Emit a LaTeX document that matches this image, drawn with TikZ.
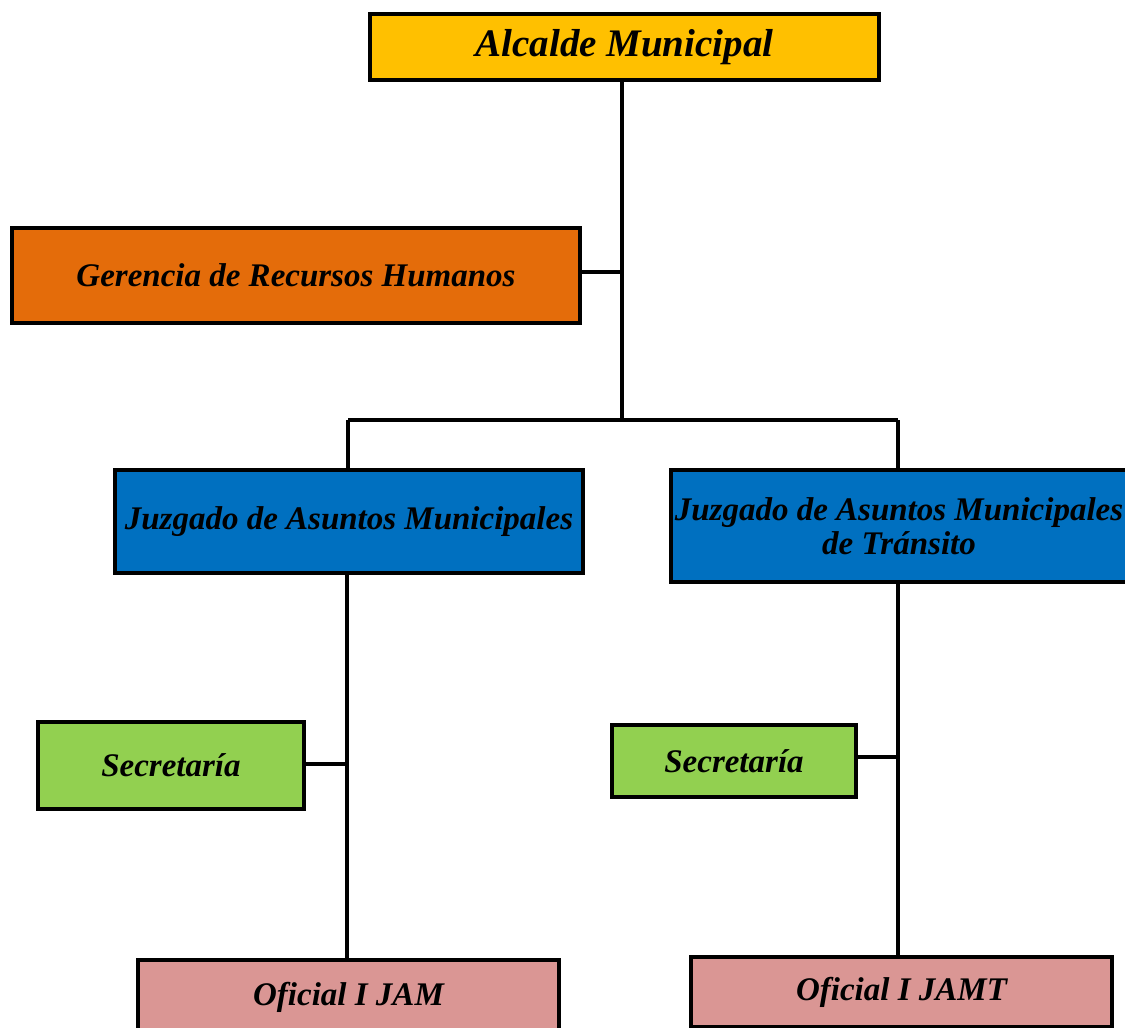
\documentclass[tikz,border=0pt]{standalone}
\usepackage{fontspec}
\setmainfont{Liberation Serif}
\definecolor{cYellow}{HTML}{FFC000}
\definecolor{cOrange}{HTML}{E46C0A}
\definecolor{cBlue}{HTML}{0070C0}
\definecolor{cGreen}{HTML}{92D050}
\definecolor{cPink}{HTML}{DA9694}
\begin{document}
\begin{tikzpicture}[x=1pt,y=-1pt,
  box/.style={draw=black, line width=4pt, inner sep=0pt, anchor=north west,
    font=\fontsize{33}{34}\selectfont\bfseries\itshape, align=center},
  link/.style={draw=black, line width=4pt}]
\useasboundingbox (0,0) rectangle (1125,1028);
\fill[white] (0,0) rectangle (1125,1028);
\node[box, fill=cYellow, minimum width=509pt, minimum height=66pt,
  font=\fontsize{39}{40}\selectfont\bfseries\itshape] (alc) at (368,12) {Alcalde Municipal};
\node[box, fill=cOrange, minimum width=568pt, minimum height=95pt] (ger) at (10,226) {Gerencia de Recursos Humanos};
\node[box, fill=cBlue, minimum width=468pt, minimum height=103pt] (jam) at (113,468) {Juzgado de Asuntos Municipales};
\node[box, fill=cBlue, minimum width=456pt, minimum height=112pt] (jamt) at (669,468) {Juzgado de Asuntos Municipales\\de Tránsito};
\node[box, fill=cGreen, minimum width=266pt, minimum height=87pt] (sec1) at (36,720) {Secretaría};
\node[box, fill=cGreen, minimum width=244pt, minimum height=72pt] (sec2) at (610,723) {Secretaría};
\node[box, fill=cPink, minimum width=421pt, minimum height=75pt] (of1) at (136,958) {Oficial I JAM};
\node[box, fill=cPink, minimum width=421pt, minimum height=70pt] (of2) at (689,955) {Oficial I JAMT};
\coordinate (t1) at (622,420);
\coordinate (gj) at (622,272);
\coordinate (lj) at (348,420);
\coordinate (rj) at (898,420);
\coordinate (s1j) at (347,764);
\coordinate (s2j) at (898,757);
\draw[link] (alc.south -| t1) -- (t1);
\draw[link] (ger.east |- gj) -- (gj);
\draw[link] (lj) -- (rj);
\draw[link] (lj) -- (jam.north -| lj);
\draw[link] (rj) -- (jamt.north -| rj);
\draw[link] (jam.south -| s1j) -- (of1.north -| s1j);
\draw[link] (sec1.east |- s1j) -- (s1j);
\draw[link] (jamt.south -| s2j) -- (of2.north -| s2j);
\draw[link] (sec2.east |- s2j) -- (s2j);
\end{tikzpicture}
\end{document}
